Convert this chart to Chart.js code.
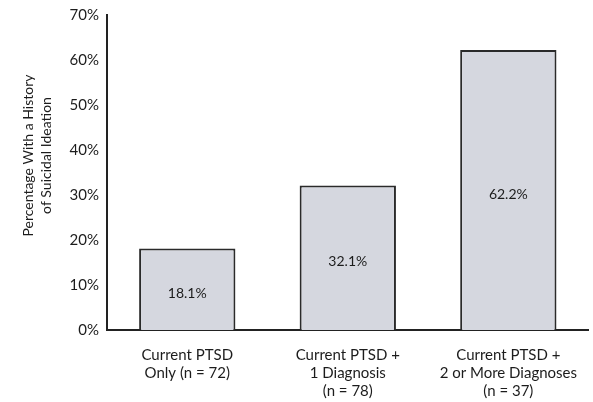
<!DOCTYPE html>
<html>
<head>
<meta charset="utf-8">
<script src="https://cdn.jsdelivr.net/npm/chart.js@4/dist/chart.umd.min.js"></script>
<style>
  html, body { margin: 0; padding: 0; background: #fff; }
  #wrap { width: 593px; height: 402px; }
</style>
</head>
<body>
<div id="wrap"><canvas id="chart" width="593" height="402"></canvas></div>
<script>
// chart data
const categories = [
    ['Current PTSD', 'Only (n = 72)'],
    ['Current PTSD +', '1 Diagnosis', '(n = 78)'],
    ['Current PTSD +', '2 or More Diagnoses', '(n = 37)']
];
const percentages = [18.1, 32.1, 62.2];
const yTicks = [0, 10, 20, 30, 40, 50, 60, 70];
const yTitle = ['Percentage With a History', 'of Suicidal Ideation'];

const FONT = 'Lato, "Open Sans", sans-serif';
const INK = '#1c1c1c';

// writes the value in the middle of each bar
const barValues = {
    id: 'barValues',
    afterDatasetsDraw(chart) {
        const ctx = chart.ctx;
        const meta = chart.getDatasetMeta(0);
        ctx.save();
        ctx.font = '14px ' + FONT;
        ctx.fillStyle = INK;
        ctx.textAlign = 'center';
        ctx.textBaseline = 'middle';
        meta.data.forEach((bar, i) => {
            const y = (bar.y + bar.base) / 2 + 4;
            ctx.fillText(percentages[i].toFixed(1) + '%', bar.x, y);
        });
        ctx.restore();
    }
};

// rotated two-line y-axis title, sitting a bit above the axis middle
const yAxisTitle = {
    id: 'yAxisTitle',
    afterDraw(chart) {
        const ctx = chart.ctx;
        const area = chart.chartArea;
        const cy = (area.top + area.bottom) / 2 - 17;
        ctx.save();
        ctx.font = '14px ' + FONT;
        ctx.fillStyle = INK;
        ctx.textAlign = 'center';
        ctx.textBaseline = 'middle';
        ctx.translate(28, cy);
        ctx.rotate(-Math.PI / 2);
        yTitle.forEach((line, i) => ctx.fillText(line, 0, i * 18));
        ctx.restore();
    }
};

new Chart(document.getElementById('chart'), {
    type: 'bar',
    data: {
        labels: categories,
        datasets: [{
            data: percentages,
            backgroundColor: '#d5d7df',
            borderColor: '#2a2a2a',
            borderWidth: { top: 2, left: 2, right: 2, bottom: 0 },
            categoryPercentage: 0.6,
            barPercentage: 1.0
        }]
    },
    options: {
        responsive: false,
        animation: false,
        layout: { padding: { top: 15, right: 0, left: 0, bottom: 0 } },
        plugins: {
            legend: { display: false },
            tooltip: { enabled: false }
        },
        scales: {
            x: {
                grid: { display: false, drawTicks: false },
                border: { color: '#222', width: 2 },
                ticks: {
                    color: INK,
                    font: { family: FONT, size: 15, lineHeight: 1.2 },
                    padding: 16,
                    maxRotation: 0,
                    autoSkip: false
                },
                afterFit(scale) { scale.height = 72; }
            },
            y: {
                min: 0,
                max: 70,
                afterBuildTicks(scale) { scale.ticks = yTicks.map(v => ({ value: v })); },
                grid: { display: false, drawOnChartArea: false, drawTicks: true, tickLength: 5, tickColor: '#222', tickWidth: 1.5 },
                border: { color: '#222', width: 2 },
                ticks: {
                    color: INK,
                    font: { family: FONT, size: 15 },
                    padding: 3,
                    callback: v => v + '%'
                },
                afterFit(scale) { scale.width = 107; }
            }
        }
    },
    plugins: [barValues, yAxisTitle]
});
</script>
</body>
</html>
